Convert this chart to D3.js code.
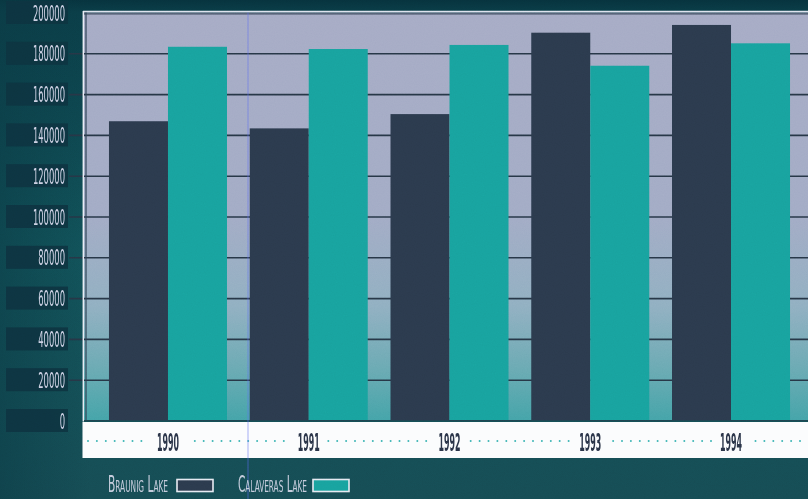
<!DOCTYPE html>
<html><head><meta charset="utf-8">
<script src="https://cdn.jsdelivr.net/npm/d3@7"></script>
<style>html,body{margin:0;padding:0;background:#0f4a52;overflow:hidden}svg{display:block}</style>
</head><body>
<script>
const years = ["1990", "1991", "1992", "1993", "1994"];
const braunig = [146700, 143200, 150200, 190100, 193900];
const calaveras = [183200, 182100, 184100, 173900, 184900];
const seriesNames = ["Braunig Lake", "Calaveras Lake"];
const seriesColors = ["#2b3a4d", "#18a29e"];
const yTickValues = [0, 20000, 40000, 60000, 80000, 100000, 120000, 140000, 160000, 180000, 200000];
const yTickLabels = ["0", "20000", "40000", "60000", "80000", "100000", "120000", "140000", "160000", "180000", "200000"];

const W = 808, H = 499;
const plotL = 84, plotR = 808, plotT = 12.5, plotB = 420.5;
const svg = d3.select("body").append("svg").attr("width", W).attr("height", H);
const defs = svg.append("defs");

// background gradient
const bg = defs.append("linearGradient").attr("id", "bg").attr("x1", 0).attr("y1", 0).attr("x2", 0).attr("y2", 1);
bg.append("stop").attr("offset", "0").attr("stop-color", "#06323d");
bg.append("stop").attr("offset", "0.025").attr("stop-color", "#0a3d47");
bg.append("stop").attr("offset", "0.5").attr("stop-color", "#115259");
bg.append("stop").attr("offset", "1").attr("stop-color", "#164c54");
const pg = defs.append("linearGradient").attr("id", "pg").attr("x1", 0).attr("y1", 0).attr("x2", 0).attr("y2", 1);
pg.append("stop").attr("offset", "0").attr("stop-color", "#a6abc5");
pg.append("stop").attr("offset", "0.5").attr("stop-color", "#a2abc5");
pg.append("stop").attr("offset", "0.72").attr("stop-color", "#90afc1");
pg.append("stop").attr("offset", "0.88").attr("stop-color", "#68a9b2");
pg.append("stop").attr("offset", "1").attr("stop-color", "#44a3a8");
const lg = defs.append("linearGradient").attr("id", "lg").attr("x1", 0).attr("y1", 0).attr("x2", 1).attr("y2", 0);
lg.append("stop").attr("offset", "0").attr("stop-color", "#0a3a44").attr("stop-opacity", 0.55);
lg.append("stop").attr("offset", "1").attr("stop-color", "#0a3a44").attr("stop-opacity", 0);

const noise = defs.append("filter").attr("id", "noise").attr("x", 0).attr("y", 0).attr("width", "100%").attr("height", "100%");
noise.append("feTurbulence").attr("type", "fractalNoise").attr("baseFrequency", 0.9).attr("numOctaves", 2).attr("seed", 3);
noise.append("feColorMatrix").attr("type", "matrix").attr("values", "0 0 0 0 0.5  0 0 0 0 0.5  0 0 0 0 0.5  0 0 0 0.35 0");

svg.append("rect").attr("width", W).attr("height", H).attr("fill", "url(#bg)");
svg.append("rect").attr("width", 90).attr("height", H).attr("fill", "url(#lg)");

// scales
const y = d3.scaleLinear().domain([0, 200000]).range([plotB, plotT]);
const x = d3.scaleBand().domain(years).range([97.6, 801.4]).paddingInner(0.1616).paddingOuter(0.0808);
const xs = d3.scaleBand().domain(seriesNames).range([0, x.bandwidth()]).padding(0);

// plot background
svg.append("rect").attr("x", plotL).attr("y", plotT).attr("width", plotR - plotL).attr("height", plotB - plotT).attr("fill", "url(#pg)");

// y label boxes
const yl = svg.append("g");
yTickValues.forEach((v, i) => {
  const yy = y(v);
  yl.append("rect").attr("x", 6).attr("y", yy - 11.5).attr("width", 62).attr("height", 23).attr("fill", "#0d3340").attr("opacity", 0.92);
  const lab = yTickLabels[i];
  const len = 5.35 * lab.length;
  yl.append("text").attr("x", 65 - len).attr("y", yy + 8).attr("textLength", len).attr("lengthAdjust", "spacingAndGlyphs")
    .attr("font-family", "DejaVu Sans Condensed, DejaVu Sans, sans-serif").attr("font-size", 22)
    .attr("fill", "#cdd1e4").text(lab);
});

// gridlines via axis
const yAxis = d3.axisLeft(y).tickValues(yTickValues.slice(1, -1)).tickSize(plotR - 69).tickFormat("");
const ga = svg.append("g").attr("transform", `translate(${plotR},0)`).call(yAxis);
ga.select(".domain").remove();
ga.selectAll("line").attr("stroke", "#263646").attr("stroke-width", 1.6);

// plot borders
svg.append("line").attr("x1", plotL - 1).attr("x2", plotR).attr("y1", plotT - 1).attr("y2", plotT - 1).attr("stroke", "#dde2ee").attr("stroke-width", 1.5);
svg.append("line").attr("x1", plotL).attr("x2", plotR).attr("y1", plotT + 1.3).attr("y2", plotT + 1.3).attr("stroke", "#3a4a5c").attr("stroke-width", 1.2);
svg.append("line").attr("x1", plotL - 0.7).attr("x2", plotL - 0.7).attr("y1", plotT - 1.5).attr("y2", plotB + 1).attr("stroke", "#e8ecf4").attr("stroke-width", 1.4);
svg.append("line").attr("x1", plotL + 2).attr("x2", plotL + 2).attr("y1", plotT).attr("y2", plotB).attr("stroke", "#2e4252").attr("stroke-width", 1.2);

// bars
const data = years.map((yr, i) => ({ year: yr, values: [braunig[i], calaveras[i]] }));
const groups = svg.append("g").selectAll("g").data(data).join("g").attr("transform", d => `translate(${x(d.year)},0)`);
groups.selectAll("rect").data(d => d.values.map((v, j) => ({ v, s: seriesNames[j], c: seriesColors[j] })))
  .join("rect")
  .attr("x", d => xs(d.s)).attr("width", xs.bandwidth())
  .attr("y", d => y(d.v)).attr("height", d => y(0) - y(d.v))
  .attr("fill", d => d.c);

// baseline
svg.append("line").attr("x1", plotL).attr("x2", plotR).attr("y1", plotB).attr("y2", plotB).attr("stroke", "#1e4450").attr("stroke-width", 1.2);

// x axis white band
const bandT = 422, bandB = 458;
svg.append("rect").attr("x", 82.5).attr("y", bandT).attr("width", plotR - 82.5).attr("height", bandB - bandT).attr("fill", "#fbfcfd");
const xAxis = d3.axisBottom(x).tickSize(0).tickPadding(0);
const gx = svg.append("g").attr("transform", `translate(0,${bandT})`).call(xAxis);
gx.select(".domain").remove();
gx.selectAll("text").attr("y", 28.5).attr("dy", 0)
  .attr("font-family", "DejaVu Sans Condensed, DejaVu Sans, sans-serif").attr("font-weight", "bold").attr("font-size", 24)
  .attr("fill", "#2a3448").attr("textLength", 22).attr("lengthAdjust", "spacingAndGlyphs");
// dotted leaders
const centers = years.map(yr => x(yr) + x.bandwidth() / 2);
const dots = [];
for (let dx = 88; dx < plotR; dx += 8.9) {
  if (centers.every(c => Math.abs(dx - c) > 19)) dots.push(dx);
}
svg.append("g").selectAll("circle").data(dots).join("circle")
  .attr("cx", d => d).attr("cy", 441).attr("r", 1).attr("fill", "#39b3b3");

// scan artifact line
svg.append("line").attr("x1", 248).attr("x2", 248).attr("y1", plotT).attr("y2", H).attr("stroke", "#5b6cf0").attr("stroke-width", 1).attr("opacity", 0.55);

// legend
const legend = svg.append("g");
const legItems = [{ tx: 108, tl: 60, sx: 177 }, { tx: 238, tl: 69, sx: 313 }];
seriesNames.forEach((name, i) => {
  const it = legItems[i];
  legend.append("text").attr("x", it.tx).attr("y", 491.5).attr("textLength", it.tl).attr("lengthAdjust", "spacingAndGlyphs")
    .attr("font-family", "DejaVu Sans Condensed, DejaVu Sans, sans-serif").attr("font-size", 23).attr("font-variant", "small-caps")
    .attr("fill", "#c4ccdc").text(name);
  legend.append("rect").attr("x", it.sx).attr("y", 479.5).attr("width", 36).attr("height", 12)
    .attr("fill", seriesColors[i]).attr("stroke", "#e6eaf2").attr("stroke-width", 1.6);
});

// texture
svg.append("rect").attr("width", W).attr("height", H).attr("filter", "url(#noise)").attr("opacity", 0.35).style("mix-blend-mode", "overlay");
</script>
</body></html>
